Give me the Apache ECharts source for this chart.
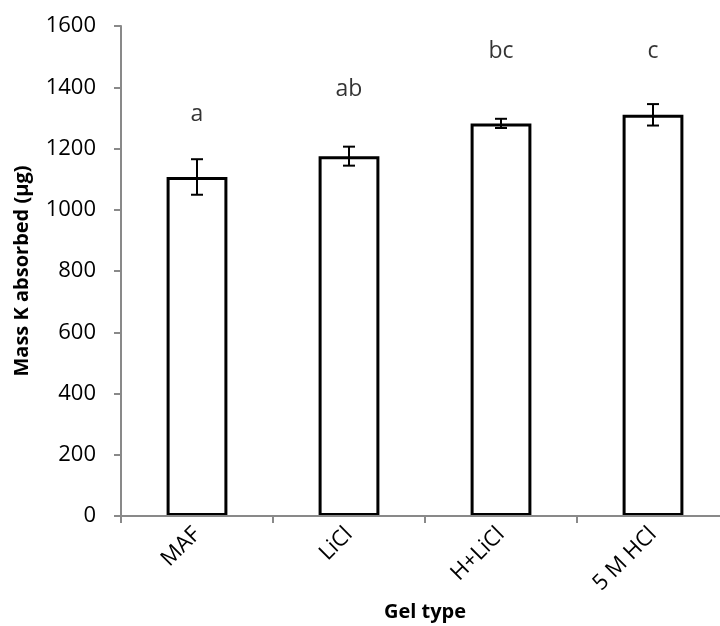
<!DOCTYPE html>
<html>
<head>
<meta charset="utf-8">
<script src="https://cdn.jsdelivr.net/npm/echarts@6/dist/echarts.min.js"></script>
<style>html,body{margin:0;padding:0;background:#fff}#c{width:720px;height:626px}</style>
</head>
<body>
<div id="c"></div>
<script>
var categories = ['MAF', 'LiCl', 'H+LiCl', '5 M HCl'];
var meanValues = [1107, 1175, 1282, 1310];
var errorValues = [58, 31, 15, 35];
var letters = ['a', 'ab', 'bc', 'c'];
var letterValues = [1310, 1392, 1517, 1517];
var yTicks = [0, 200, 400, 600, 800, 1000, 1200, 1400, 1600];

var FONT = 'Open Sans';
var chart = echarts.init(document.getElementById('c'), null, {renderer: 'canvas'});

var errData = categories.map(function (c, i) {
  return [i, meanValues[i] - errorValues[i], meanValues[i] + errorValues[i]];
});

chart.setOption({
  animation: false,
  backgroundColor: '#ffffff',
  grid: {left: 121, top: 26, width: 608, height: 490, containLabel: false, outerBoundsMode: 'none'},
  xAxis: {
    type: 'category',
    data: categories,
    z: 5,
    name: 'Gel type',
    nameLocation: 'middle',
    nameGap: 84,
    nameTextStyle: {fontFamily: FONT, fontSize: 20, fontWeight: 'bold', color: '#000'},
    axisLine: {lineStyle: {color: '#898989', width: 2}},
    axisTick: {show: true, length: 7, lineStyle: {color: '#898989', width: 2}},
    axisLabel: {rotate: 45, margin: 15, fontFamily: FONT, fontSize: 22, color: '#000'}
  },
  yAxis: {
    type: 'value',
    min: 0, max: 1600, interval: 200,
    name: 'Mass K absorbed (µg)',
    nameLocation: 'middle',
    nameGap: 89,
    nameRotate: 90,
    nameTextStyle: {fontFamily: FONT, fontSize: 20, fontWeight: 'bold', color: '#000'},
    splitLine: {show: false},
    axisLine: {show: true, lineStyle: {color: '#898989', width: 2}},
    axisTick: {show: true, length: 7, lineStyle: {color: '#898989', width: 2}},
    axisLabel: {margin: 25, fontFamily: FONT, fontSize: 22, color: '#000',
      formatter: function (v) { return yTicks.indexOf(v) >= 0 ? String(v) : ''; }}
  },
  series: [
    {
      type: 'bar',
      data: meanValues,
      barWidth: '40%',
      itemStyle: {color: '#ffffff', borderColor: '#000000', borderWidth: 3},
      z: 2
    },
    {
      type: 'custom',
      data: errData,
      z: 4,
      renderItem: function (params, api) {
        var x = api.value(0);
        var lo = api.coord([x, api.value(1)]);
        var hi = api.coord([x, api.value(2)]);
        var hw = 6;
        var st = {stroke: '#000', lineWidth: 2};
        return {type: 'group', children: [
          {type: 'line', shape: {x1: lo[0], y1: lo[1], x2: hi[0], y2: hi[1]}, style: st},
          {type: 'line', shape: {x1: lo[0] - hw, y1: lo[1], x2: lo[0] + hw, y2: lo[1]}, style: st},
          {type: 'line', shape: {x1: hi[0] - hw, y1: hi[1], x2: hi[0] + hw, y2: hi[1]}, style: st}
        ]};
      }
    },
    {
      type: 'scatter',
      data: letterValues,
      symbolSize: 1,
      itemStyle: {color: 'rgba(0,0,0,0)'},
      label: {
        show: true, position: 'inside',
        fontFamily: FONT, fontSize: 23, color: '#000',
        formatter: function (p) { return letters[p.dataIndex]; }
      },
      z: 5
    }
  ]
});
</script>
</body>
</html>
